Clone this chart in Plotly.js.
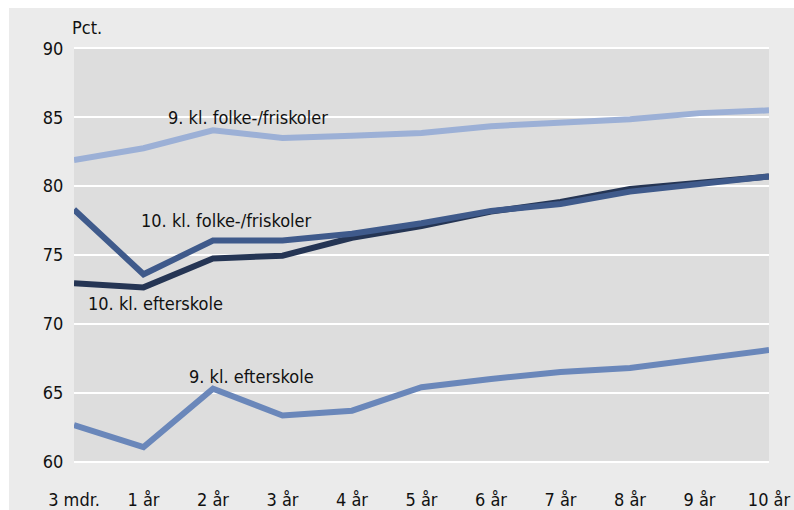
<!DOCTYPE html>
<html>
<head>
<meta charset="utf-8">
<script src="https://cdn.plot.ly/plotly-3.0.1.min.js"></script>
<style>
html,body{margin:0;padding:0;background:#ffffff;width:794px;height:510px;overflow:hidden;}
#chart{position:absolute;left:9px;top:8px;width:785px;height:502px;}
</style>
</head>
<body>
<div id="chart"></div>
<script>
const categories = ["3 mdr.", "1 år", "2 år", "3 år", "4 år", "5 år", "6 år", "7 år", "8 år", "9 år", "10 år"];
const kl9Folke = [81.9, 82.75, 84.05, 83.5, 83.65, 83.85, 84.35, 84.55, 84.85, 85.3, 85.5];
const kl10Efterskole = [72.95, 72.65, 74.75, 74.95, 76.25, 77.1, 78.15, 78.85, 79.8, 80.3, 80.7];
const kl10Folke = [78.3, 73.6, 76.05, 76.05, 76.55, 77.3, 78.2, 78.7, 79.6, 80.2, 80.7];
const kl9Efterskole = [62.65, 61.05, 65.3, 63.35, 63.7, 65.4, 66.0, 66.5, 66.8, 67.45, 68.1];

const seriesNames = ["9. kl. folke-/friskoler", "10. kl. efterskole", "10. kl. folke-/friskoler", "9. kl. efterskole"];
const seriesValues = [kl9Folke, kl10Efterskole, kl10Folke, kl9Efterskole];
const seriesColors = ["#9cb0d6", "#253554", "#3f5a8b", "#6a87ba"];

const labelX = [2.5, 1.17, 2.2, 2.55];
const labelY = [84.95, 71.5, 77.5, 66.2];

const FONT = "'Liberation Sans Narrow', 'DejaVu Sans Condensed', Arial, sans-serif";

const traces = seriesValues.map((vals, i) => ({
  type: "scatter",
  mode: "lines",
  x: categories,
  y: vals,
  name: seriesNames[i],
  line: {color: seriesColors[i], width: 6},
  hoverinfo: "skip"
}));

const annotations = seriesNames.map((n, i) => ({
  x: labelX[i], y: labelY[i], xref: "x", yref: "y",
  text: n, showarrow: false,
  font: {family: FONT, size: 18, color: "#111111"}
}));
annotations.push({
  x: 0, y: 1, xref: "paper", yref: "paper",
  xanchor: "left", yanchor: "bottom", yshift: 7, xshift: -4,
  text: "Pct.", showarrow: false,
  font: {family: FONT, size: 18, color: "#111111"}
});

const layout = {
  width: 785, height: 502,
  paper_bgcolor: "#ebebeb",
  plot_bgcolor: "#dddddd",
  margin: {l: 65, r: 25, t: 39, b: 47},
  showlegend: false,
  font: {family: FONT, size: 18, color: "#111111"},
  xaxis: {
    type: "category",
    range: [0, 10],
    showgrid: false,
    zeroline: false,
    showline: false,
    ticks: "outside",
    ticklen: 20,
    tickcolor: "rgba(0,0,0,0)",
    tickfont: {family: FONT, size: 18, color: "#111111"},
    fixedrange: true
  },
  yaxis: {
    range: [59.9, 90.1],
    tickvals: [60, 65, 70, 75, 80, 85, 90],
    showgrid: true,
    gridcolor: "#ffffff",
    gridwidth: 2,
    zeroline: false,
    showline: false,
    ticks: "outside",
    ticklen: 6,
    tickcolor: "rgba(0,0,0,0)",
    tickfont: {family: FONT, size: 18, color: "#111111"},
    fixedrange: true
  },
  annotations: annotations
};

Plotly.newPlot("chart", traces, layout, {displayModeBar: false, staticPlot: true});
</script>
</body>
</html>
